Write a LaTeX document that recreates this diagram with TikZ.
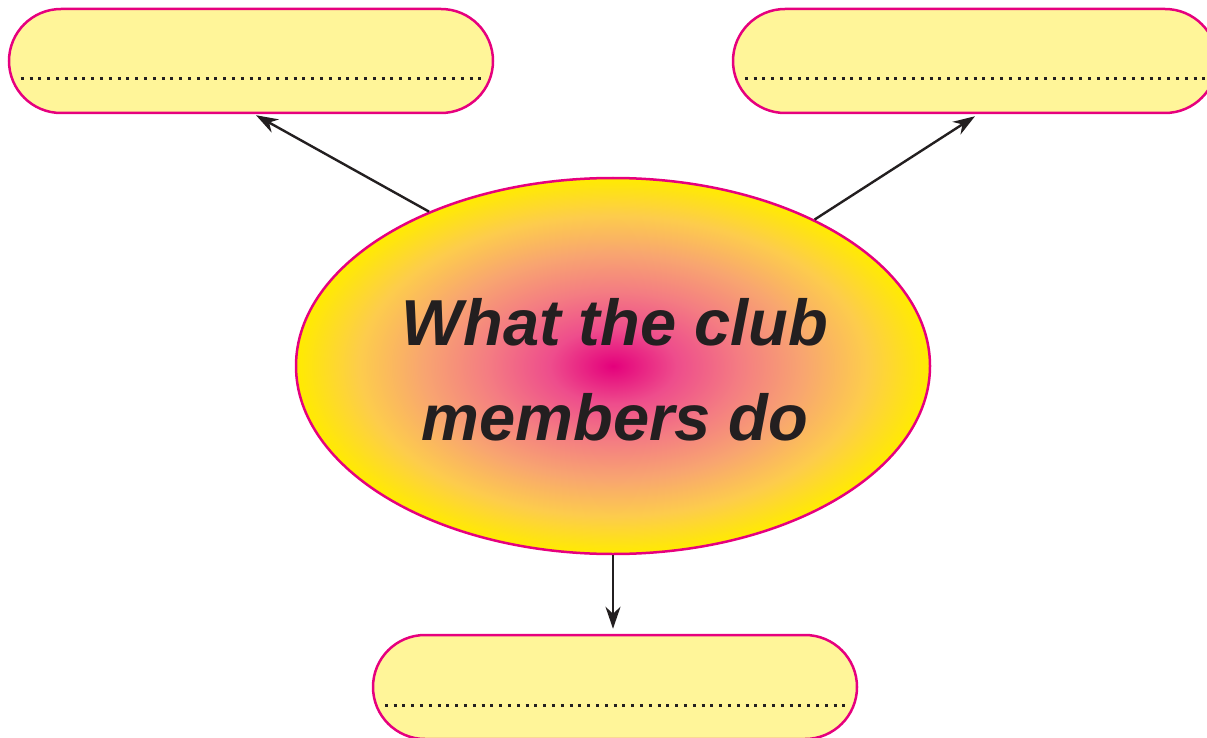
\documentclass[tikz,border=0pt]{standalone}
\usepackage{fontspec}
\setmainfont{Liberation Sans}
\usetikzlibrary{arrows.meta,shapes.geometric}
\definecolor{mag}{HTML}{E6007E}
\definecolor{boxy}{HTML}{FFF599}
\definecolor{ink}{HTML}{231F20}
\definecolor{cA}{HTML}{E4007C}
\definecolor{cB}{HTML}{EE4D8C}
\definecolor{cC}{HTML}{F47D82}
\definecolor{cD}{HTML}{F8A570}
\definecolor{cE}{HTML}{FDCC4C}
\definecolor{cF}{HTML}{FFEB00}
\pgfdeclareradialshading{clubshade}{\pgfpoint{0bp}{0bp}}{color(0bp)=(cA); color(5bp)=(cB); color(10bp)=(cC); color(15bp)=(cD); color(20bp)=(cE); color(25bp)=(cF); color(50bp)=(cF)}
\tikzset{
  box/.style={draw=mag, fill=boxy, line width=2.5pt, rounded corners=52pt, minimum width=484pt, minimum height=104pt, inner sep=0pt},
  dotline/.style={draw=ink, line width=3pt, dash pattern=on 3pt off 5.8pt},
  arr/.style={draw=ink, line width=2.4pt, -{Stealth[length=22pt,width=15pt,inset=7pt]}},
  title/.style={text=ink, font=\fontsize{65}{78}\selectfont\bfseries\itshape, inner sep=0pt, anchor=base}
}
\begin{document}
\begin{tikzpicture}[x=1pt,y=-1pt]
\useasboundingbox (0,0) rectangle (1207,738);
\clip (0,0) rectangle (1207,738);
\node[box] (tl) at (251,61) {};
\node[box] (tr) at (975,61) {};
\node[box] (bot) at (615,687) {};
\draw[dotline] ([xshift=13pt,yshift=-18pt]tl.west) -- ([xshift=-13pt,yshift=-18pt]tl.east);
\draw[dotline] ([xshift=13pt,yshift=-18pt]tr.west) -- ([xshift=-13pt,yshift=-18pt]tr.east);
\draw[dotline] ([xshift=13pt,yshift=-18pt]bot.west) -- ([xshift=-13pt,yshift=-18pt]bot.east);
\node[ellipse, draw=mag, line width=2.5pt, shading=clubshade, minimum width=634pt, minimum height=376pt, inner sep=0pt] (ell) at (613,366) {};
\node[title] (t1) at (615,345) {What the club};
\node[title] (t2) at (615,440) {members do};
\draw[arr] (ell.140) -- ([xshift=5pt,yshift=-1pt]tl.south);
\draw[arr] (ell.36) -- ([yshift=-2pt]tr.south);
\draw[arr, shorten >=5pt] (ell.south) -- (ell.south |- bot.north);
\end{tikzpicture}
\end{document}
